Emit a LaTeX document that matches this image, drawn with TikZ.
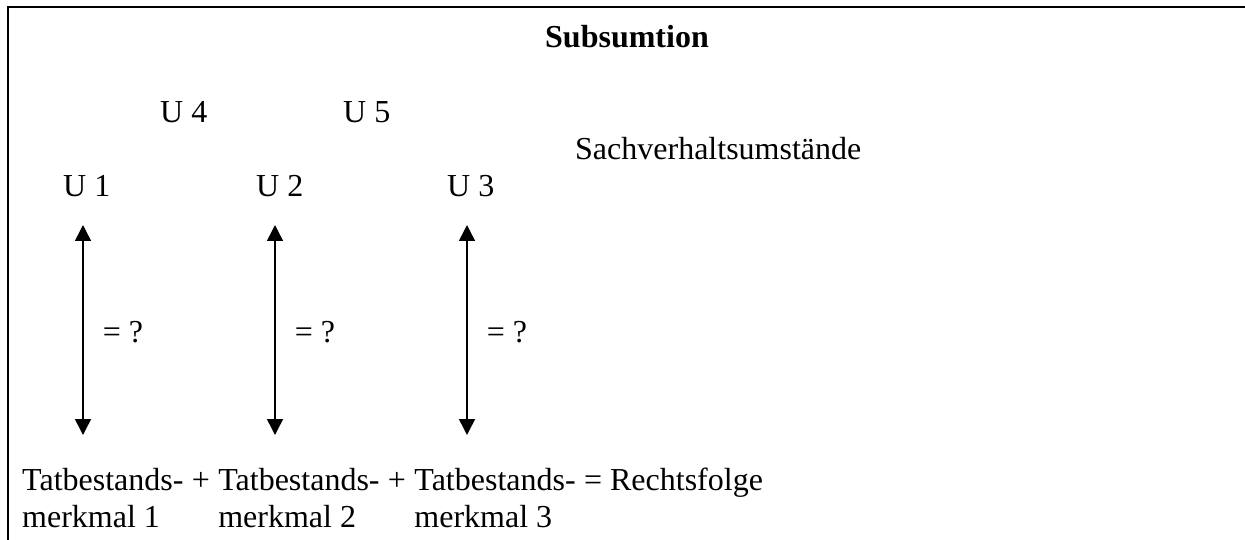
\documentclass[tikz,border=0pt]{standalone}
\usepackage{fontspec}
\setmainfont{Liberation Serif}
\usetikzlibrary{positioning,arrows.meta}

\tikzset{
  txt/.style={inner sep=0pt, font=\fontsize{32}{37}\selectfont},
  pfeil/.style={line width=1.5pt, {Triangle[width=16pt,length=16pt]}-{Triangle[width=16pt,length=16pt]}},
}

\begin{document}
\begin{tikzpicture}[x=1pt,y=1pt,yscale=-1,xscale=1]
    \useasboundingbox (0,0) rectangle (1245,540);
    % frame (top and left only)
    \draw [line width=2pt] (1245,7) -- (8,7) -- (8,540);

    % Text Node
    \node [txt, anchor=base, font=\fontsize{32}{37}\selectfont\bfseries] (title) at (627,48) {Subsumtion};
    % Text Node
    \node [txt, anchor=base west] (u4) at (160,123) {U 4};
    \node [txt, anchor=base west] (u5) at (343,123) {U 5};
    % Text Node
    \node [txt, anchor=base west] (sachv) at (575,160) {Sachverhaltsumstände};
    % Text Node
    \node [txt, anchor=base west] (u1) at (63,197) {U 1};
    \node [txt, anchor=base west] (u2) at (256,197) {U 2};
    \node [txt, anchor=base west] (u3) at (447,197) {U 3};

    % arrow ends
    \coordinate (o1) at (83,225);   \coordinate (n1) at (83,435);
    \coordinate (o2) at (275,225);  \coordinate (n2) at (275,435);
    \coordinate (o3) at (467,225);  \coordinate (n3) at (467,435);

    %Straight Lines
    \draw [pfeil] (o1) -- (n1) node [txt, pos=0.56, anchor=base west, xshift=19pt] (q1) {= ?};
    %Straight Lines
    \draw [pfeil] (o2) -- (n2) node [txt, pos=0.56, anchor=base west, xshift=19pt] (q2) {= ?};
    %Straight Lines
    \draw [pfeil] (o3) -- (n3) node [txt, pos=0.56, anchor=base west, xshift=19pt] (q3) {= ?};

    % Text Node
    \node [txt, anchor=base west] (tb1) at (22,490) {Tatbestands-};
    \node [txt, base right=8pt of tb1] (plus1) {+};
    \node [txt, base right=8pt of plus1] (tb2) {Tatbestands-};
    \node [txt, base right=8pt of tb2] (plus2) {+};
    \node [txt, base right=8pt of plus2] (tb3) {Tatbestands-};
    \node [txt, base right=8pt of tb3] (rf) {= Rechtsfolge};
    % Text Node
    \node [txt, anchor=base west] (mm1) at ([yshift=37pt]tb1.base west) {merkmal 1};
    \node [txt, anchor=base west] (mm2) at ([yshift=37pt]tb2.base west) {merkmal 2};
    \node [txt, anchor=base west] (mm3) at ([yshift=37pt]tb3.base west) {merkmal 3};
\end{tikzpicture}
\end{document}
